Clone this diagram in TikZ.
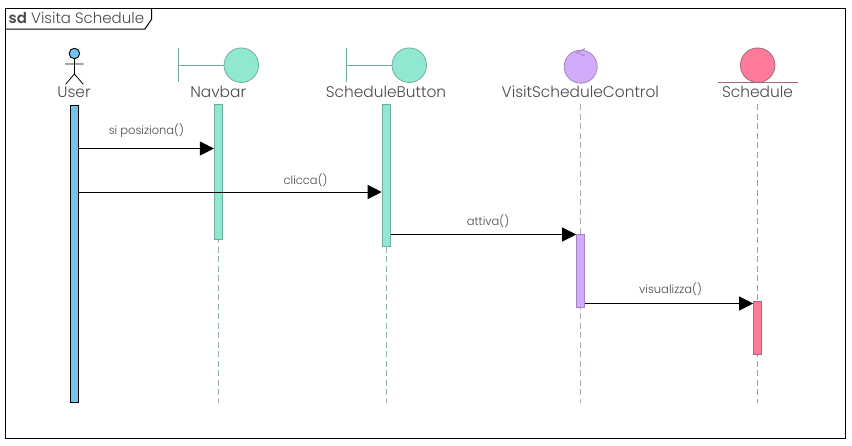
\documentclass[tikz,border=0pt]{standalone}
\usepackage{fontspec}
\setmainfont{Poppins Light}[BoldFont={Poppins SemiBold}]
\usetikzlibrary{arrows.meta}
\definecolor{txt}{HTML}{4A4A4A}
\definecolor{ublue}{HTML}{6FC5EE}
\definecolor{teal}{HTML}{8FE8CF}
\definecolor{tealb}{HTML}{6FAE9C}
\definecolor{tealdash}{HTML}{93B5AC}
\definecolor{purp}{HTML}{D2ABFA}
\definecolor{purpb}{HTML}{A385C4}
\definecolor{purpdash}{HTML}{B5A5C2}
\definecolor{pink}{HTML}{FF7B9A}
\definecolor{pinkb}{HTML}{A9647E}
\definecolor{pinkdash}{HTML}{BB8FA0}
\tikzset{
  x=1pt,y=-1pt,
  actor/.style={font=\fontsize{15.4}{17}\selectfont,text=txt,inner sep=0pt,anchor=center},
  msg/.style={font=\fontsize{11.5}{13}\selectfont,text=txt,inner sep=0pt,anchor=center},
  bar/.style={draw=#1,line width=1pt,inner sep=0pt,minimum width=8pt,anchor=north},
  lifeline/.style={dash pattern=on 6pt off 3.5pt,line width=.8pt},
  call/.style={draw=black,line width=1pt,-{Triangle[length=14pt,width=14pt]},shorten >=0pt},
  ball/.style={circle,inner sep=0pt,minimum size=34.5pt,line width=.8pt}
}
\begin{document}
\begin{tikzpicture}
\useasboundingbox (0,0) rectangle (852,445);
\fill[white] (0,0) rectangle (852,445);
% frame
\draw[black,line width=1pt] (5.5,8.5) rectangle (845,438.5);
\draw[black,line width=1pt] (5.5,29) -- (145,29) -- (151.7,19) -- (151.7,8.5);
\node[font=\fontsize{15}{17}\selectfont,text=txt,inner sep=0pt,anchor=west] (title) at (8.5,18.2) {\textbf{sd} Visita Schedule};
% lifeline coordinates
\coordinate (navTop) at (218.4,104);
\coordinate (navEnd) at (218.4,402.5);
\coordinate (btnTop) at (386.2,104);
\coordinate (btnEnd) at (386.2,402.5);
\coordinate (ctlTop) at (580.7,104);
\coordinate (ctlEnd) at (580.7,402.5);
\coordinate (schTop) at (757.7,104);
\coordinate (schEnd) at (757.7,402.5);
\draw[lifeline,draw=tealdash] (navTop) -- (navEnd);
\draw[lifeline,draw=tealdash] (btnTop) -- (btnEnd);
\draw[lifeline,draw=purpdash] (ctlTop) -- (ctlEnd);
\draw[lifeline,draw=pinkdash] (schTop) -- (schEnd);
% user
\node[circle,draw=black,fill=ublue,line width=.9pt,inner sep=0pt,minimum size=10.5pt] (uhead) at (74.4,53.5) {};
\coordinate (uhip) at (74.4,74);
\coordinate (uarmL) at (65.3,64);
\coordinate (uarmR) at (83.5,64);
\coordinate (ulegL) at (65.6,84.3);
\coordinate (ulegR) at (83.3,84.3);
\draw[black,line width=.8pt] (uhead.south) -- (uhip) (uarmL) -- (uarmR) (ulegL) -- (uhip) -- (ulegR);
\node[actor] (lUser) at (74,92.5) {User};
% navbar boundary
\node[ball,draw=tealb,fill=teal] (navC) at (241.3,65.2) {};
\coordinate (navB1) at (178.5,48);
\coordinate (navB2) at (178.5,82);
\coordinate (navB) at (178.5,65.2);
\draw[tealb,line width=.9pt] (navB1) -- (navB2) (navB) -- (navC.west);
\node[actor] (lNav) at (218.2,92) {Navbar};
% button boundary
\node[ball,draw=tealb,fill=teal] (btnC) at (409.3,65.2) {};
\coordinate (btnB1) at (346.2,48);
\coordinate (btnB2) at (346.2,82);
\coordinate (btnB) at (346.2,65.2);
\draw[tealb,line width=.9pt] (btnB1) -- (btnB2) (btnB) -- (btnC.west);
\node[actor] (lBtn) at (386,92) {ScheduleButton};
% control
\node[ball,minimum size=33pt,draw=purpb,fill=purp] (ctlC) at (580.7,66.7) {};
\coordinate (ctlA1) at (585,48.5);
\coordinate (ctlA2) at (576.7,52.6);
\coordinate (ctlA3) at (585,56);
\draw[purpb,line width=.8pt] (ctlA1) -- (ctlA2) -- (ctlA3);
\node[actor] (lCtl) at (580.3,92) {VisitScheduleControl};
% entity
\node[ball,draw=pinkb,fill=pink] (schC) at (757.7,65.2) {};
\coordinate (schL) at (717.7,82.4);
\coordinate (schR) at (797.7,82.4);
\draw[pinkb,line width=.9pt] (schL) -- (schR);
\node[actor] (lSch) at (757.5,92) {Schedule};
% activations
\node[bar=black,fill=ublue,minimum height=297pt] (aUser) at (74.4,105) {};
\node[bar=tealb,fill=teal,minimum height=134.8pt] (aNav) at (218.4,104) {};
\node[bar=tealb,fill=teal,minimum height=141.5pt] (aBtn) at (386.2,104) {};
\node[bar=purpb,fill=purp,minimum height=72.5pt] (aCtl) at (580.7,234) {};
\node[bar=pinkb,fill=pink,minimum height=53pt] (aSch) at (757.7,301) {};
% messages
\draw[call] (aUser.east |- 0,148.5) -- (aNav.west |- 0,148.5);
\draw[call] (aUser.east |- 0,192) -- (aBtn.west |- 0,192);
\draw[call] (aBtn.east |- 0,234.5) -- (aCtl.west |- 0,234.5);
\draw[call] (aCtl.east |- 0,303.5) -- (aSch.west |- 0,303.5);
\node[msg] (m1) at (146.3,131) {si posiziona()};
\node[msg] (m2) at (305.5,180) {clicca()};
\node[msg] (m3) at (488,221) {attiva()};
\node[msg] (m4) at (670.5,289) {visualizza()};
\end{tikzpicture}
\end{document}
